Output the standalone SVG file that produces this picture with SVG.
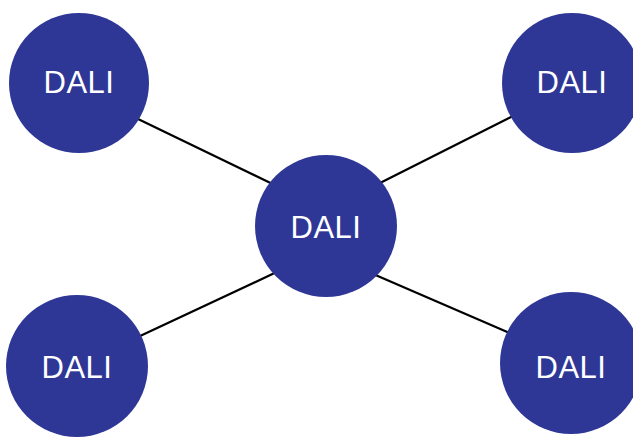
<svg xmlns="http://www.w3.org/2000/svg" width="633" height="439" viewBox="0 0 633 439">
  <style>
    .node circle { fill: #2E3796; }
    .node text { fill: #FFFFFF; font-family: "Liberation Sans", Arial, sans-serif; font-size: 31px; letter-spacing: 0.5px; text-anchor: middle; }
    .links line { stroke: #000000; stroke-width: 2.2; stroke-linecap: round; }
  </style>
  <rect width="633" height="439" fill="#FFFFFF"/>
  <g id="connectors" class="links">
    <line x1="137" y1="118.5" x2="271" y2="183.2"/>
    <line x1="381" y1="182.6" x2="512.5" y2="116.3"/>
    <line x1="139" y1="336.5" x2="273.5" y2="273.6"/>
    <line x1="376" y1="275.3" x2="509" y2="332.7"/>
  </g>
  <g id="node-top-left" class="node">
    <circle cx="79" cy="83" r="70"/>
    <text x="79" y="93">DALI</text>
  </g>
  <g id="node-top-right" class="node">
    <circle cx="572" cy="83" r="70"/>
    <text x="572" y="93">DALI</text>
  </g>
  <g id="node-center" class="node">
    <circle cx="326" cy="226" r="71"/>
    <text x="326" y="238">DALI</text>
  </g>
  <g id="node-bottom-left" class="node">
    <circle cx="77" cy="366" r="71"/>
    <text x="77" y="378">DALI</text>
  </g>
  <g id="node-bottom-right" class="node">
    <circle cx="571" cy="363" r="71"/>
    <text x="571" y="378">DALI</text>
  </g>
</svg>
